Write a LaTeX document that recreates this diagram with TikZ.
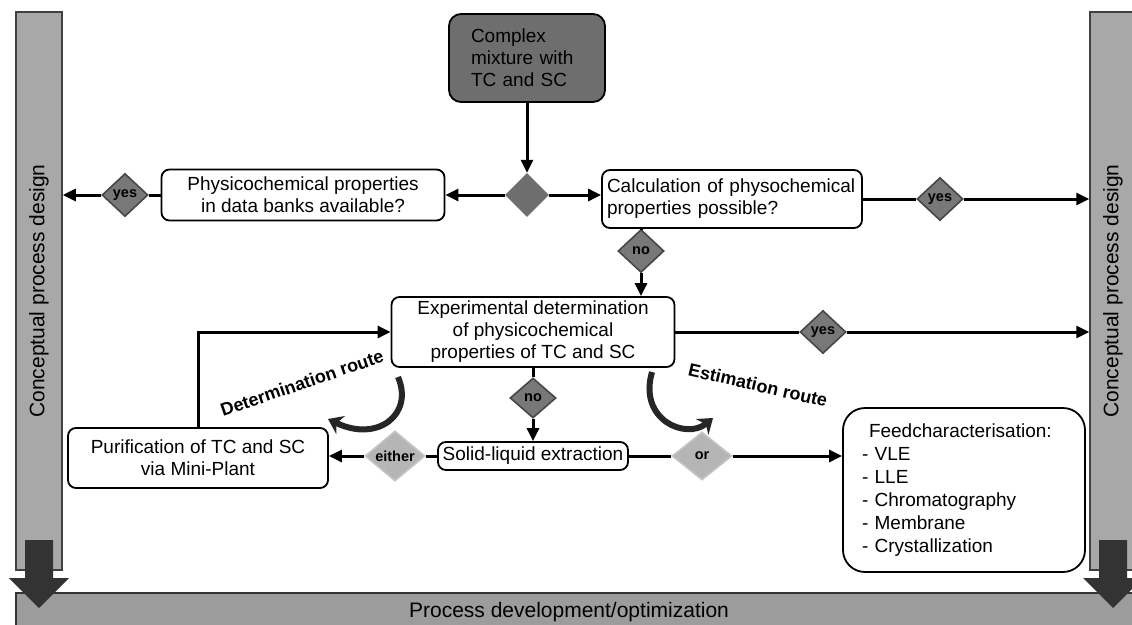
\documentclass[tikz,border=0pt]{standalone}
\usepackage{fontspec}
\setmainfont{Liberation Sans}
\usetikzlibrary{shapes.geometric}
\usetikzlibrary{positioning}
\usetikzlibrary{arrows.meta}
\definecolor{bargray}{gray}{0.66}
\definecolor{basegray}{gray}{0.61}
\definecolor{darkfill}{gray}{0.43}
\definecolor{answerfill}{gray}{0.47}
\definecolor{optionfill}{gray}{0.71}
\tikzset{
    box/.style={
        draw,
        line width=1.8pt,
        rounded corners=8pt,
        fill=white,
        align=center,
        inner sep=3pt,
        font=\fontsize{19}{22}\selectfont
    },
    bar/.style={
        draw=black!75,
        line width=1.5pt,
        fill=bargray,
        minimum width=46pt,
        minimum height=558pt,
        inner sep=0pt,
        font=\fontsize{21}{24}\selectfont
    },
    decide/.style={
        diamond,
        fill=darkfill,
        minimum width=44pt,
        minimum height=44pt,
        inner sep=0pt
    },
    answer/.style={
        diamond,
        draw=black!72,
        line width=1.6pt,
        fill=answerfill,
        minimum width=46pt,
        minimum height=43pt,
        inner sep=0pt,
        font=\bfseries\fontsize{14.5}{14.5}\selectfont
    },
    option/.style={
        diamond,
        draw=gray!45,
        line width=1.6pt,
        fill=optionfill,
        minimum width=60pt,
        minimum height=48pt,
        inner sep=0pt,
        font=\bfseries\fontsize{14.5}{14.5}\selectfont
    },
    link/.style={
        line width=3pt
    },
    flow/.style={
        line width=3pt,
        -{Triangle[length=13pt,width=12pt]}
    },
    route/.style={
        line width=6pt,
        black!85,
        -{Stealth[length=14pt,width=20pt]}
    },
    routelabel/.style={
        font=\bfseries\fontsize{18}{18}\selectfont
    }
}

\begin{document}
\begin{tikzpicture}[x=1pt, y=-1pt]
                \useasboundingbox (0,0) rectangle (1132,624);
                \clip (0,0) rectangle (1132,624);
                \draw[draw=black!80, line width=1.5pt, fill=basegray] (16,593) rectangle (1150,640);
                \node (pdev) at (569,612) {\fontsize{21}{24}\selectfont Process development/optimization};
                \node[bar] (lbar) at (39,291) {\rotatebox{90}{Conceptual process design}};
                \node[bar] (rbar) at (1113,291) {\rotatebox{90}{Conceptual process design}};
                \fill[black!80] (25,540) -- (53,540) -- (53,578) -- (69,578) -- (39,608) -- (9,578) -- (25,578) -- cycle;
                \fill[black!80] (1099,540) -- (1127,540) -- (1127,578) -- (1143,578) -- (1113,608) -- (1083,578) -- (1099,578) -- cycle;
                \node[box, fill=darkfill, rounded corners=12pt, align=left, text width=112pt, inner xsep=22pt, minimum height=88pt] (mix) at (527,58) {Complex\\mixture with\\TC and SC};
                \node[decide] (cdia) at (527,195) {};
                \node[box, minimum width=283pt, minimum height=51pt] (phys) at (303,195) {Physicochemical properties\\in data banks available?};
                \node[box, align=left, text width=250pt, inner xsep=5pt, minimum height=58pt] (calc) at (732,199) {Calculation of physochemical\\properties possible?};
                \node[answer] (yesL) at (125,195) {yes};
                \node[answer] (yesR) at (940,199) {yes};
                \node[answer] (no1) at (641,251) {no};
                \node[box, minimum width=283pt, minimum height=70pt] (exp) at (533,332) {Experimental determination\\of physicochemical\\properties of TC and SC};
                \node[answer] (yes2) at (823,332) {yes};
                \node[answer, minimum height=40pt] (no2) at (533,398) {no};
                \node[box, minimum width=190pt, minimum height=28pt, inner sep=2pt] (sle) at (533,456) {Solid-liquid extraction};
                \node[option] (either) at (395,456) {either};
                \node[option] (or) at (702,456) {or};
                \node[box, minimum width=260pt, minimum height=60pt] (pur) at (198,458) {Purification of TC and SC\\via Mini-Plant};
                \node[box, rounded corners=22pt, align=left, text width=204pt, inner xsep=19pt, minimum height=164pt, font=\fontsize{19}{23}\selectfont] (feed) at (964,490) {\hspace*{7pt}Feedcharacterisation:\\- VLE\\- LLE\\- Chromatography\\- Membrane\\- Crystallization};
                \draw[flow] (mix) -- (cdia);
                \draw[flow] (cdia) -- (cdia -| phys.east);
                \draw[flow] (cdia) -- (cdia -| calc.west);
                \draw[link] (phys) -- (yesL);
                \draw[flow] (yesL) -- (yesL -| lbar.east);
                \draw[link] (calc) -- (yesR);
                \draw[flow] (yesR) -- (yesR -| rbar.west);
                \draw[link] (calc.south -| no1) -- (no1);
                \draw[flow] (no1) -- (no1 |- exp.north);
                \draw[link] (exp) -- (yes2);
                \draw[flow] (yes2) -- (yes2 -| rbar.west);
                \draw[link] (exp) -- (no2);
                \draw[flow] (no2) -- (sle);
                \draw[link] (sle) -- (either);
                \draw[flow] (either) -- (either -| pur.east);
                \draw[link] (sle) -- (or);
                \draw[flow] (or) -- (or -| feed.west);
                \draw[flow] (pur.north) |- (exp.west);
                \coordinate (detA) at (398,377);
                \coordinate (detB) at (328,419);
                \coordinate (estA) at (652,372);
                \coordinate (estB) at (713,418);
                \draw[route] (detA) .. controls (414,414) and (378,443) .. (detB);
                \draw[route] (estA) .. controls (638,420) and (686,440) .. (estB);
                \node[routelabel, rotate=19] (detlbl) at (302,383) {Determination route};
                \node[routelabel, rotate=-13] (estlbl) at (758,385) {Estimation route};
            \end{tikzpicture}
\end{document}
